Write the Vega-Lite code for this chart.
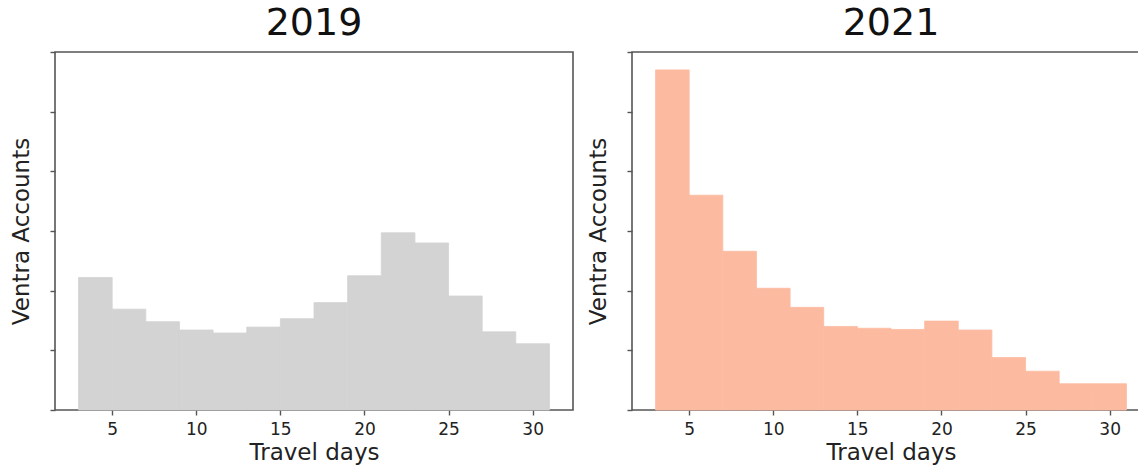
{
  "$schema": "https://vega.github.io/schema/vega-lite/v6.json",
  "padding": {"left": 9, "top": 4, "right": 0, "bottom": 0},
  "background": "white",
  "spacing": 12,
  "config": {
    "font": "DejaVu Sans",
    "view": {"stroke": "#555", "strokeWidth": 1.6},
    "title": {"fontSize": 38, "fontWeight": "normal", "color": "#111", "offset": 8, "baseline": "alphabetic", "font": "DejaVu Sans"},
    "axis": {
      "domain": false,
      "grid": false,
      "tickColor": "#555",
      "tickWidth": 1.4,
      "tickSize": 5,
      "labelFont": "DejaVu Sans",
      "labelFontSize": 17,
      "labelColor": "#222",
      "titleFont": "DejaVu Sans",
      "titleFontSize": 23,
      "titleFontWeight": "normal",
      "titleColor": "#222"
    }
  },
  "datasets": {
    "y2019": [
      {"bin_start": 3, "bin_end": 5, "accounts": 222},
      {"bin_start": 5, "bin_end": 7, "accounts": 169},
      {"bin_start": 7, "bin_end": 9, "accounts": 148},
      {"bin_start": 9, "bin_end": 11, "accounts": 134},
      {"bin_start": 11, "bin_end": 13, "accounts": 129},
      {"bin_start": 13, "bin_end": 15, "accounts": 139},
      {"bin_start": 15, "bin_end": 17, "accounts": 153},
      {"bin_start": 17, "bin_end": 19, "accounts": 180},
      {"bin_start": 19, "bin_end": 21, "accounts": 225},
      {"bin_start": 21, "bin_end": 23, "accounts": 297},
      {"bin_start": 23, "bin_end": 25, "accounts": 280},
      {"bin_start": 25, "bin_end": 27, "accounts": 191},
      {"bin_start": 27, "bin_end": 29, "accounts": 131},
      {"bin_start": 29, "bin_end": 31, "accounts": 111}
    ],
    "y2021": [
      {"bin_start": 3, "bin_end": 5, "accounts": 570},
      {"bin_start": 5, "bin_end": 7, "accounts": 360},
      {"bin_start": 7, "bin_end": 9, "accounts": 266},
      {"bin_start": 9, "bin_end": 11, "accounts": 204},
      {"bin_start": 11, "bin_end": 13, "accounts": 172},
      {"bin_start": 13, "bin_end": 15, "accounts": 140},
      {"bin_start": 15, "bin_end": 17, "accounts": 137},
      {"bin_start": 17, "bin_end": 19, "accounts": 135},
      {"bin_start": 19, "bin_end": 21, "accounts": 149},
      {"bin_start": 21, "bin_end": 23, "accounts": 134},
      {"bin_start": 23, "bin_end": 25, "accounts": 88},
      {"bin_start": 25, "bin_end": 27, "accounts": 65},
      {"bin_start": 27, "bin_end": 29, "accounts": 44},
      {"bin_start": 29, "bin_end": 31, "accounts": 44}
    ]
  },
  "hconcat": [
    {
      "title": "2019",
      "width": 518,
      "height": 358,
      "data": {"name": "y2019"},
      "mark": {"type": "rect", "color": "#d3d3d3", "stroke": "#d3d3d3", "strokeWidth": 0.8},
      "encoding": {
        "x": {"field": "bin_start", "type": "quantitative", "scale": {"domain": [1.6, 32.4], "nice": false, "zero": false}, "axis": {"values": [5, 10, 15, 20, 25, 30], "title": "Travel days", "labelPadding": 6, "titlePadding": 4}},
        "x2": {"field": "bin_end"},
        "y": {"field": "accounts", "type": "quantitative", "scale": {"domain": [0, 600], "nice": false}, "axis": {"values": [0, 100, 200, 300, 400, 500, 600], "labels": false, "title": "Ventra Accounts", "titlePadding": 16}},
        "y2": {"datum": 0}
      }
    },
    {
      "title": "2021",
      "width": 518,
      "height": 358,
      "data": {"name": "y2021"},
      "mark": {"type": "rect", "color": "#fcbba1", "stroke": "#fcbba1", "strokeWidth": 0.8},
      "encoding": {
        "x": {"field": "bin_start", "type": "quantitative", "scale": {"domain": [1.6, 32.4], "nice": false, "zero": false}, "axis": {"values": [5, 10, 15, 20, 25, 30], "title": "Travel days", "labelPadding": 6, "titlePadding": 4}},
        "x2": {"field": "bin_end"},
        "y": {"field": "accounts", "type": "quantitative", "scale": {"domain": [0, 600], "nice": false}, "axis": {"values": [0, 100, 200, 300, 400, 500, 600], "labels": false, "title": "Ventra Accounts", "titlePadding": 16}},
        "y2": {"datum": 0}
      }
    }
  ]
}
